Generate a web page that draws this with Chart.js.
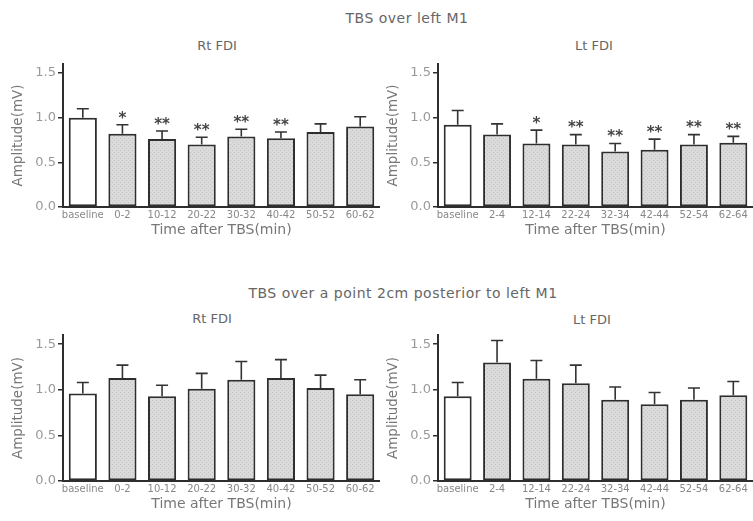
<!DOCTYPE html>
<html>
<head>
<meta charset="utf-8">
<script src="https://cdn.jsdelivr.net/npm/chart.js@4/dist/chart.umd.min.js"></script>
<style>
  html, body { margin: 0; padding: 0; background: #ffffff; }
  body { width: 753px; height: 521px; position: relative; overflow: hidden; font-family: "DejaVu Sans", sans-serif; }
  .ptitle { position: absolute; color: #666; font-size: 14px; line-height: 16px; letter-spacing: 0.5px; white-space: nowrap; transform: translate(-50%, -50%); }
  .stitle { position: absolute; color: #666; font-size: 13px; line-height: 16px; white-space: nowrap; transform: translate(-50%, -50%); }
  .box { position: absolute; }
  canvas { display: block; }
</style>
</head>
<body>
<div class="ptitle" style="left:407px; top:18px;">TBS over left M1</div>
<div class="ptitle" style="left:403px; top:293px;">TBS over a point 2cm posterior to left M1</div>
<div class="stitle" style="left:217px; top:46px;">Rt FDI</div>
<div class="stitle" style="left:594px; top:46px;">Lt FDI</div>
<div class="stitle" style="left:212px; top:319px;">Rt FDI</div>
<div class="stitle" style="left:592px; top:320px;">Lt FDI</div>
<div class="box" style="left:0px; top:30px; width:380px; height:212px;"><canvas id="c1"></canvas></div>
<div class="box" style="left:375px; top:30px; width:378px; height:212px;"><canvas id="c2"></canvas></div>
<div class="box" style="left:0px; top:300px; width:380px; height:218px;"><canvas id="c3"></canvas></div>
<div class="box" style="left:375px; top:300px; width:378px; height:218px;"><canvas id="c4"></canvas></div>
<script>
// ---- Data ----
const labelsRt = ['baseline', '0-2', '10-12', '20-22', '30-32', '40-42', '50-52', '60-62'];
const labelsLt = ['baseline', '2-4', '12-14', '22-24', '32-34', '42-44', '52-54', '62-64'];
const yTicks = [0, 0.5, 1.0, 1.5];

const m1RtMean = [1.00, 0.82, 0.76, 0.70, 0.79, 0.77, 0.84, 0.90];
const m1RtSem  = [0.10, 0.10, 0.09, 0.08, 0.08, 0.07, 0.09, 0.11];
const m1RtSig  = ['', '*', '**', '**', '**', '**', '', ''];

const m1LtMean = [0.92, 0.81, 0.71, 0.70, 0.62, 0.64, 0.70, 0.72];
const m1LtSem  = [0.16, 0.12, 0.15, 0.11, 0.09, 0.12, 0.11, 0.07];
const m1LtSig  = ['', '', '*', '**', '**', '**', '**', '**'];

const postRtMean = [0.96, 1.13, 0.93, 1.01, 1.11, 1.13, 1.02, 0.95];
const postRtSem  = [0.12, 0.14, 0.12, 0.17, 0.20, 0.20, 0.14, 0.16];
const postRtSig  = ['', '', '', '', '', '', '', ''];

const postLtMean = [0.93, 1.30, 1.12, 1.07, 0.89, 0.84, 0.89, 0.94];
const postLtSem  = [0.15, 0.24, 0.20, 0.20, 0.14, 0.13, 0.13, 0.15];
const postLtSig  = ['', '', '', '', '', '', '', ''];

// ---- Style ----
function makePattern() {
  const c = document.createElement('canvas');
  c.width = 4; c.height = 4;
  const x = c.getContext('2d');
  x.fillStyle = '#dadada';
  x.fillRect(0, 0, 4, 4);
  x.fillStyle = '#c4c4c4';
  x.fillRect(0, 0, 1, 1);
  x.fillRect(2, 2, 1, 1);
  return x.createPattern(c, 'repeat');
}
const grayFill = makePattern();

const errPlugin = {
  id: 'errbars',
  afterDatasetsDraw(chart, args, opts) {
    const ctx = chart.ctx;
    const meta = chart.getDatasetMeta(0);
    const ys = chart.scales.y;
    const ds = chart.data.datasets[0];
    ctx.save();
    ctx.strokeStyle = '#333';
    ctx.lineWidth = 1.6;
    meta.data.forEach((bar, i) => {
      const v = ds.data[i];
      const top = ys.getPixelForValue(v + opts.sem[i]);
      const base = ys.getPixelForValue(v);
      ctx.beginPath();
      ctx.moveTo(bar.x, base);
      ctx.lineTo(bar.x, top);
      ctx.moveTo(bar.x - 6, top);
      ctx.lineTo(bar.x + 6, top);
      ctx.stroke();
      if (opts.sig[i]) {
        ctx.fillStyle = '#444';
        ctx.font = 'bold 15px "DejaVu Sans", sans-serif';
        ctx.textAlign = 'center';
        ctx.textBaseline = 'middle';
        ctx.fillText(opts.sig[i], bar.x, top - 6);
      }
    });
    ctx.restore();
  }
};

function makeChart(id, labels, mean, sem, sig, cfg) {
  return new Chart(document.getElementById(id), {
    type: 'bar',
    data: {
      labels: labels,
      datasets: [{
        data: mean,
        backgroundColor: mean.map((v, i) => i === 0 ? '#ffffff' : grayFill),
        borderColor: '#2e2e2e',
        borderWidth: 2,
        borderSkipped: false,
        categoryPercentage: 1.0,
        barPercentage: 0.71
      }]
    },
    plugins: [errPlugin],
    options: {
      responsive: true,
      maintainAspectRatio: false,
      animation: false,
      layout: { padding: { top: cfg.top, left: 0, right: 0, bottom: 0 } },
      plugins: {
        legend: { display: false },
        tooltip: { enabled: false },
        title: { display: false },
        errbars: { sem: sem, sig: sig }
      },
      scales: {
        x: {
          grid: { display: false, drawTicks: false },
          border: { display: true, color: '#2e2e2e', width: 2 },
          ticks: {
            color: '#888',
            font: { family: '"DejaVu Sans", sans-serif', size: 10 },
            padding: 2,
            autoSkip: false,
            maxRotation: 0
          },
          title: {
            display: true,
            text: 'Time after TBS(min)',
            color: '#777',
            font: { family: '"DejaVu Sans", sans-serif', size: 14 },
            padding: { top: 0, bottom: cfg.bottom }
          },
          afterFit(scale) { scale.height = cfg.height; }
        },
        y: {
          min: 0,
          max: 1.6,
          afterBuildTicks(scale) { scale.ticks = yTicks.map(v => ({ value: v })); },
          grid: { display: true, drawOnChartArea: false, drawTicks: true, tickLength: 5, color: '#2e2e2e', lineWidth: 1.5 },
          border: { display: true, color: '#2e2e2e', width: 2 },
          ticks: {
            color: '#999',
            font: { family: '"DejaVu Sans", sans-serif', size: 13 },
            padding: 2,
            callback: v => Number(v).toFixed(1)
          },
          title: {
            display: true,
            text: 'Amplitude(mV)',
            color: '#777',
            font: { family: '"DejaVu Sans", sans-serif', size: 13.5 },
            padding: { top: 10, bottom: 0 }
          },
          afterFit(scale) { scale.width = 63; }
        }
      }
    }
  });
}

makeChart('c1', labelsRt, m1RtMean, m1RtSem, m1RtSig, { height: 35, bottom: 3, top: 34 });
makeChart('c2', labelsLt, m1LtMean, m1LtSem, m1LtSig, { height: 35, bottom: 3, top: 34 });
makeChart('c3', labelsRt, postRtMean, postRtSem, postRtSig, { height: 37, bottom: 5, top: 35 });
makeChart('c4', labelsLt, postLtMean, postLtSem, postLtSig, { height: 37, bottom: 5, top: 35 });
</script>
</body>
</html>
